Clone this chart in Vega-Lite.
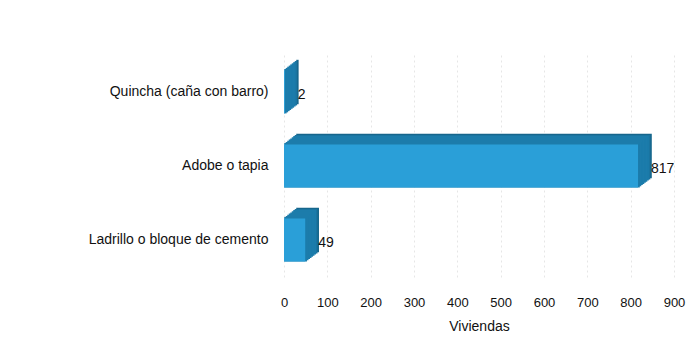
{
  "$schema": "https://vega.github.io/schema/vega-lite/v6.json",
  "autosize": {"type": "none"},
  "width": 390,
  "height": 222,
  "padding": {"left": 284, "top": 55, "right": 23, "bottom": 66},
  "background": "white",
  "view": {"stroke": null},
  "data": {"values": [
    {"material": "Quincha (caña con barro)", "viviendas": 2},
    {"material": "Adobe o tapia", "viviendas": 817},
    {"material": "Ladrillo o bloque de cemento", "viviendas": 49}
  ]},
  "encoding": {
    "y": {"field": "material", "type": "nominal", "sort": null,
      "scale": {"paddingInner": 0.42, "paddingOuter": 0.21},
      "axis": {"title": null, "domain": false, "ticks": false, "labelPadding": 16, "labelFont": "Liberation Sans", "labelFontSize": 14, "labelColor": "#111"}},
    "x": {"field": "viviendas", "type": "quantitative",
      "scale": {"domain": [0, 900], "nice": false},
      "axis": {"values": [0,100,200,300,400,500,600,700,800,900], "title": "Viviendas", "domain": false, "ticks": false, "labelFlush": false, "labelPadding": 19, "labelFont": "Liberation Sans", "labelFontSize": 13, "labelColor": "#111", "titleFont": "Liberation Sans", "titleFontSize": 14, "titleFontWeight": "normal", "titleColor": "#111", "titlePadding": 10, "gridColor": "#e6e6e6", "gridDash": [2, 3]}}
  },
  "layer": [
    {"mark": {"type": "bar", "color": "#16668c", "stroke": "#16668c", "strokeWidth": 1.5, "xOffset": 13, "yOffset": -10}},
    {"mark": {"type": "bar", "color": "#1a74a0", "stroke": "#1a74a0", "strokeWidth": 1.5, "xOffset": 11.5, "yOffset": -8.8}},
    {"mark": {"type": "bar", "color": "#1c7cab", "stroke": "#1c7cab", "strokeWidth": 1.5, "xOffset": 10, "yOffset": -7.7}},
    {"mark": {"type": "bar", "color": "#1c7cab", "stroke": "#1c7cab", "strokeWidth": 1.5, "xOffset": 8.5, "yOffset": -6.5}},
    {"mark": {"type": "bar", "color": "#1c7cab", "stroke": "#1c7cab", "strokeWidth": 1.5, "xOffset": 7, "yOffset": -5.4}},
    {"mark": {"type": "bar", "color": "#1c7cab", "stroke": "#1c7cab", "strokeWidth": 1.5, "xOffset": 5.5, "yOffset": -4.2}},
    {"mark": {"type": "bar", "color": "#1c7cab", "stroke": "#1c7cab", "strokeWidth": 1.5, "xOffset": 4, "yOffset": -3.1}},
    {"mark": {"type": "bar", "color": "#1c7cab", "stroke": "#1c7cab", "strokeWidth": 1.5, "xOffset": 2.5, "yOffset": -1.9}},
    {"mark": {"type": "bar", "color": "#1c7cab", "stroke": "#1c7cab", "strokeWidth": 1.5, "xOffset": 1, "yOffset": -0.8}},
    {"mark": {"type": "bar", "color": "#2a9fd8"}},
    {"mark": {"type": "text", "align": "left", "dx": 13, "dy": 3, "font": "Liberation Sans", "fontSize": 14, "color": "#111"},
     "encoding": {"text": {"field": "viviendas", "type": "quantitative"}}}
  ]
}
